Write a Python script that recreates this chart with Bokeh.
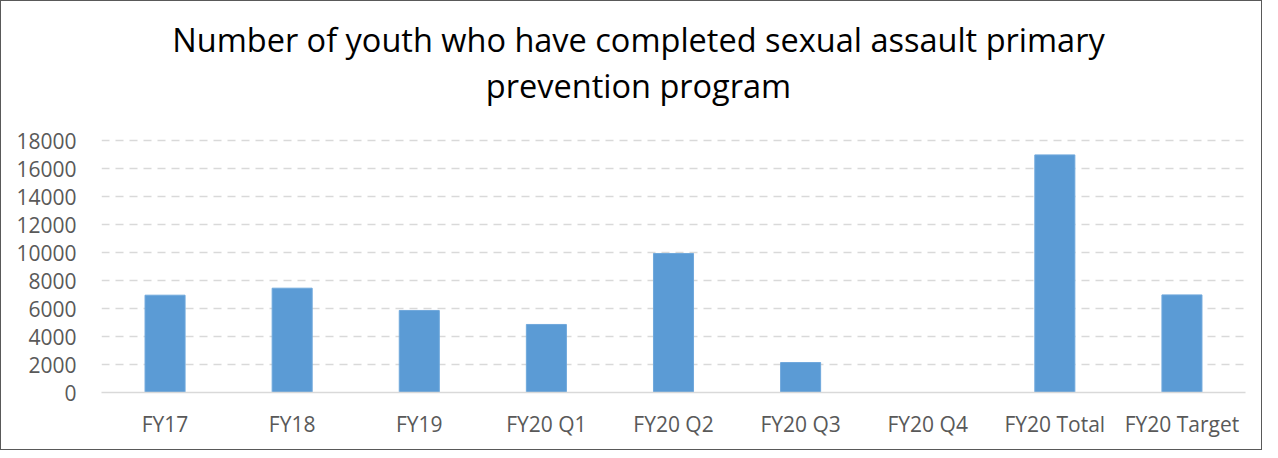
from bokeh.plotting import figure
from bokeh.models import ColumnDataSource, Label, FixedTicker, BasicTickFormatter
from bokeh.embed import file_html
from bokeh.resources import INLINE

categories = ["FY17", "FY18", "FY19", "FY20 Q1", "FY20 Q2", "FY20 Q3", "FY20 Q4", "FY20 Total", "FY20 Target"]
values = [6950, 7450, 5860, 4860, 9930, 2140, 0, 16970, 6970]
y_ticks = [0, 2000, 4000, 6000, 8000, 10000, 12000, 14000, 16000, 18000]
title_lines = ["Number of youth who have completed sexual assault primary", "prevention program"]

FONT = "Open Sans"
W, H = 1262, 450
LEFT, RIGHT, BOTTOM = 100, 18, 59
AXIS_TOP_PX = 139          # where 18000 sits, measured from figure top
TITLE_CENTER_X = 537       # title centre, measured from frame left
Y_MAX = 18000
frame_h = H - BOTTOM
y_end = Y_MAX * frame_h / (frame_h - AXIS_TOP_PX)

source = ColumnDataSource(dict(cat=categories, val=values))

p = figure(x_range=categories, y_range=(0, y_end), width=W, height=H,
           output_backend="svg", toolbar_location=None,
           min_border_left=LEFT, min_border_right=RIGHT, min_border_bottom=BOTTOM, min_border_top=0)
p.styles = {"border": "1px solid #595959", "box-sizing": "border-box"}
p.x_range.range_padding = 0

p.vbar(x="cat", top="val", width=0.315, source=source, fill_color="#5B9BD5", line_color="#6FA8DC", line_width=1)

for txt, ytop in zip(title_lines, [38, 84]):
    p.add_layout(Label(x=TITLE_CENTER_X, y=frame_h - ytop, x_units="screen", y_units="screen", text=txt,
                       text_align="center", text_baseline="middle", text_font=FONT,
                       text_font_size="32.5px", text_color="#000000"))

p.outline_line_color = None
p.xgrid.grid_line_color = None
p.ygrid.grid_line_color = "#D9D9D9"
p.ygrid.grid_line_dash = "8 6"
p.ygrid.grid_line_width = 1.5
p.ygrid.ticker = FixedTicker(ticks=y_ticks)

p.yaxis.ticker = FixedTicker(ticks=y_ticks)
p.yaxis.formatter = BasicTickFormatter(use_scientific=False)
p.yaxis.axis_line_color = None
p.yaxis.major_tick_line_color = None
p.yaxis.minor_tick_line_color = None
p.yaxis.major_label_text_font = FONT
p.yaxis.major_label_text_font_size = "21px"
p.yaxis.major_label_text_color = "#595959"
p.yaxis.major_label_standoff = 19

p.xaxis.axis_line_color = "#D9D9D9"
p.xaxis.axis_line_width = 1.5
p.xaxis.major_tick_line_color = None
p.xaxis.minor_tick_line_color = None
p.xaxis.major_label_text_font = FONT
p.xaxis.major_label_text_font_size = "21px"
p.xaxis.major_label_text_color = "#595959"
p.xaxis.major_label_standoff = 11

open("out.html", "w").write(file_html(p, INLINE))
